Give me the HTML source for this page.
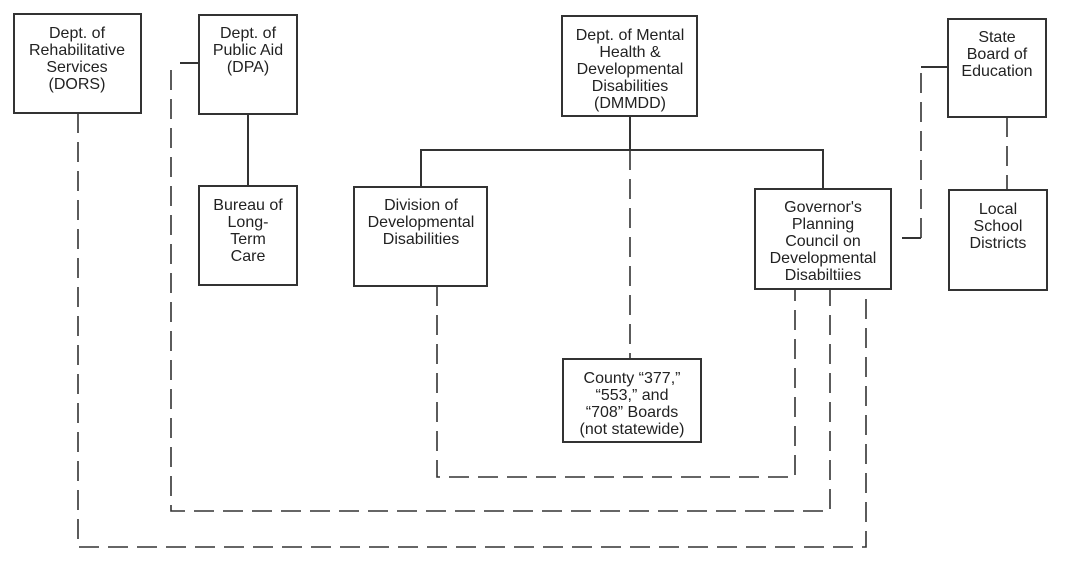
<!DOCTYPE html>
<html><head><style>
body{margin:0;background:#fff;width:1074px;height:563px;overflow:hidden}
svg text{font-family:"Liberation Sans",Arial,sans-serif;font-size:16px;fill:#222;text-anchor:middle}
</style></head><body>
<svg width="1074" height="563" viewBox="0 0 1074 563">
<g fill="none" stroke="#333" stroke-width="2">
<rect x="14" y="14" width="127" height="99"/>
<rect x="199" y="15" width="98" height="99"/>
<rect x="199" y="186" width="98" height="99"/>
<rect x="354" y="187" width="133" height="99"/>
<rect x="562" y="16" width="135" height="100"/>
<rect x="755" y="189" width="136" height="100"/>
<rect x="948" y="19" width="98" height="98"/>
<rect x="949" y="190" width="98" height="100"/>
<rect x="563" y="359" width="138" height="83"/>
<path d="M248 114V186M421 187V150H823V189M630 116V150M180 63H199M921 67H948M902 238H921"/>
</g>
<g fill="none" stroke="#333" stroke-width="1.6" stroke-dasharray="20,9">
<path d="M630 150V359"/>
<path d="M437 286V477H795V289"/>
<path d="M171 70V511H830V289"/>
<path d="M78 113V547H866V289"/>
<path d="M921 238V73"/>
<path d="M1007 117V190"/>
</g>
<text x="77" y="38">Dept. of</text><text x="77" y="55">Rehabilitative</text><text x="77" y="72">Services</text><text x="77" y="89">(DORS)</text>
<text x="248" y="38">Dept. of</text><text x="248" y="55">Public Aid</text><text x="248" y="72">(DPA)</text>
<text x="248" y="210">Bureau of</text><text x="248" y="227">Long-</text><text x="248" y="244">Term</text><text x="248" y="261">Care</text>
<text x="421" y="210">Division of</text><text x="421" y="227">Developmental</text><text x="421" y="244">Disabilities</text>
<text x="630" y="40">Dept. of Mental</text><text x="630" y="57">Health &amp;</text><text x="630" y="74">Developmental</text><text x="630" y="91">Disabilities</text><text x="630" y="108">(DMMDD)</text>
<text x="823" y="212">Governor's</text><text x="823" y="229">Planning</text><text x="823" y="246">Council on</text><text x="823" y="263">Developmental</text><text x="823" y="280">Disabiltiies</text>
<text x="997" y="42">State</text><text x="997" y="59">Board of</text><text x="997" y="76">Education</text>
<text x="998" y="214">Local</text><text x="998" y="231">School</text><text x="998" y="248">Districts</text>
<text x="632" y="383">County “377,”</text><text x="632" y="400">“553,” and</text><text x="632" y="417">“708” Boards</text><text x="632" y="434">(not statewide)</text>
</svg>
</body></html>
